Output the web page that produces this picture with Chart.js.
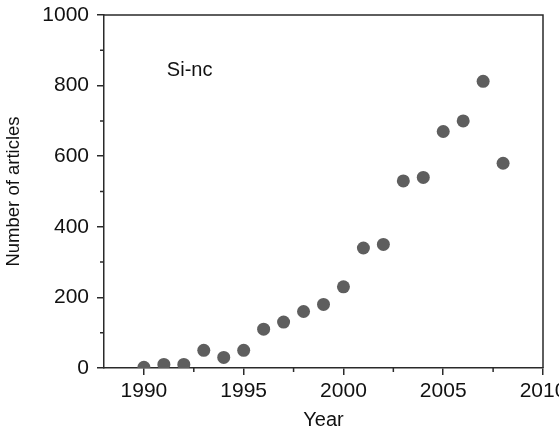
<!DOCTYPE html>
<html>
<head>
<meta charset="utf-8">
<script src="https://cdn.jsdelivr.net/npm/chart.js@4/dist/chart.umd.min.js"></script>
<style>
  html, body { margin: 0; padding: 0; background: #fff; }
  #wrap { width: 559px; height: 429px; }
</style>
</head>
<body>
<div id="wrap"><canvas id="articlesChart" width="559" height="429"></canvas></div>
<script>
var years = [1990, 1991, 1992, 1993, 1994, 1995, 1996, 1997, 1998, 1999,
             2000, 2001, 2002, 2003, 2004, 2005, 2006, 2007, 2008];
var articles = [2, 10, 10, 50, 30, 50, 110, 130, 160, 180,
                230, 340, 350, 530, 540, 670, 700, 812, 580];
var xMajorTicks = [1990, 1995, 2000, 2005, 2010];
var xMinorTicks = [1992.5, 1997.5, 2002.5, 2007.5];
var yMajorTicks = [0, 200, 400, 600, 800, 1000];
var yMinorTicks = [100, 300, 500, 700, 900];
var label = 'Si-nc';

var points = years.map(function(y, i) { return { x: y, y: articles[i] }; });
var axisColor = '#2a2a2a';
var fontFamily = '"Liberation Sans", Arial, Helvetica, sans-serif';

var framePlugin = {
    id: 'frame',
    afterDraw: function(chart) {
        var ctx = chart.ctx;
        var a = chart.chartArea;
        var xs = chart.scales.x, ys = chart.scales.y;
        ctx.save();
        ctx.strokeStyle = axisColor;
        ctx.lineWidth = 1.5;
        ctx.beginPath();
        ctx.moveTo(a.left, a.top);
        ctx.lineTo(a.right, a.top);
        ctx.lineTo(a.right, a.bottom);
        // minor ticks
        xMinorTicks.forEach(function(v) {
            var px = xs.getPixelForValue(v);
            ctx.moveTo(px, a.bottom);
            ctx.lineTo(px, a.bottom + 4);
        });
        yMinorTicks.forEach(function(v) {
            var py = ys.getPixelForValue(v);
            ctx.moveTo(a.left, py);
            ctx.lineTo(a.left - 4, py);
        });
        ctx.stroke();
        // annotation
        ctx.fillStyle = '#111';
        ctx.font = '20px ' + fontFamily;
        ctx.textAlign = 'left';
        ctx.textBaseline = 'middle';
        ctx.fillText(label, xs.getPixelForValue(1991.15), ys.getPixelForValue(844));
        ctx.restore();
    }
};

var ctx = document.getElementById('articlesChart').getContext('2d');
var articlesChart = new Chart(ctx, {
    type: 'scatter',
    data: {
        datasets: [{
            label: 'Number of articles',
            data: points,
            backgroundColor: '#5e5e5e',
            borderColor: '#5e5e5e',
            borderWidth: 0,
            pointRadius: 6.5,
            pointHoverRadius: 6.5
        }]
    },
    options: {
        responsive: false,
        animation: false,
        events: [],
        layout: { padding: { top: 15, right: 16, left: 0, bottom: 0 } },
        plugins: {
            legend: { display: false },
            tooltip: { enabled: false }
        },
        scales: {
            x: {
                type: 'linear',
                min: 1988,
                max: 2010,
                afterBuildTicks: function(scale) {
                    scale.ticks = xMajorTicks.map(function(v) { return { value: v }; });
                },
                afterFit: function(scale) {
                    scale.height = 61;
                    scale.paddingLeft = 0;
                    scale.paddingRight = 0;
                },
                border: { display: true, color: axisColor, width: 1.5 },
                grid: { drawOnChartArea: false, color: axisColor, tickLength: 7, lineWidth: 1.5 },
                ticks: {
                    color: '#111',
                    padding: 4,
                    maxRotation: 0,
                    font: { family: fontFamily, size: 21 },
                    callback: function(v) { return String(v); }
                },
                title: {
                    display: true,
                    text: 'Year',
                    color: '#111',
                    padding: { top: 0, bottom: -3 },
                    font: { family: fontFamily, size: 20 }
                }
            },
            y: {
                min: 0,
                max: 1000,
                afterBuildTicks: function(scale) {
                    scale.ticks = yMajorTicks.map(function(v) { return { value: v }; });
                },
                afterFit: function(scale) {
                    scale.width = 104;
                    scale.paddingTop = 0;
                    scale.paddingBottom = 0;
                },
                border: { display: true, color: axisColor, width: 1.5 },
                grid: { drawOnChartArea: false, color: axisColor, tickLength: 7, lineWidth: 1.5 },
                ticks: {
                    color: '#111',
                    padding: 8,
                    font: { family: fontFamily, size: 21 },
                    callback: function(v) { return String(v); }
                },
                title: {
                    display: true,
                    text: 'Number of articles',
                    color: '#111',
                    padding: { top: 3, bottom: 3 },
                    font: { family: fontFamily, size: 18.5 }
                }
            }
        }
    },
    plugins: [framePlugin]
});
</script>
</body>
</html>
